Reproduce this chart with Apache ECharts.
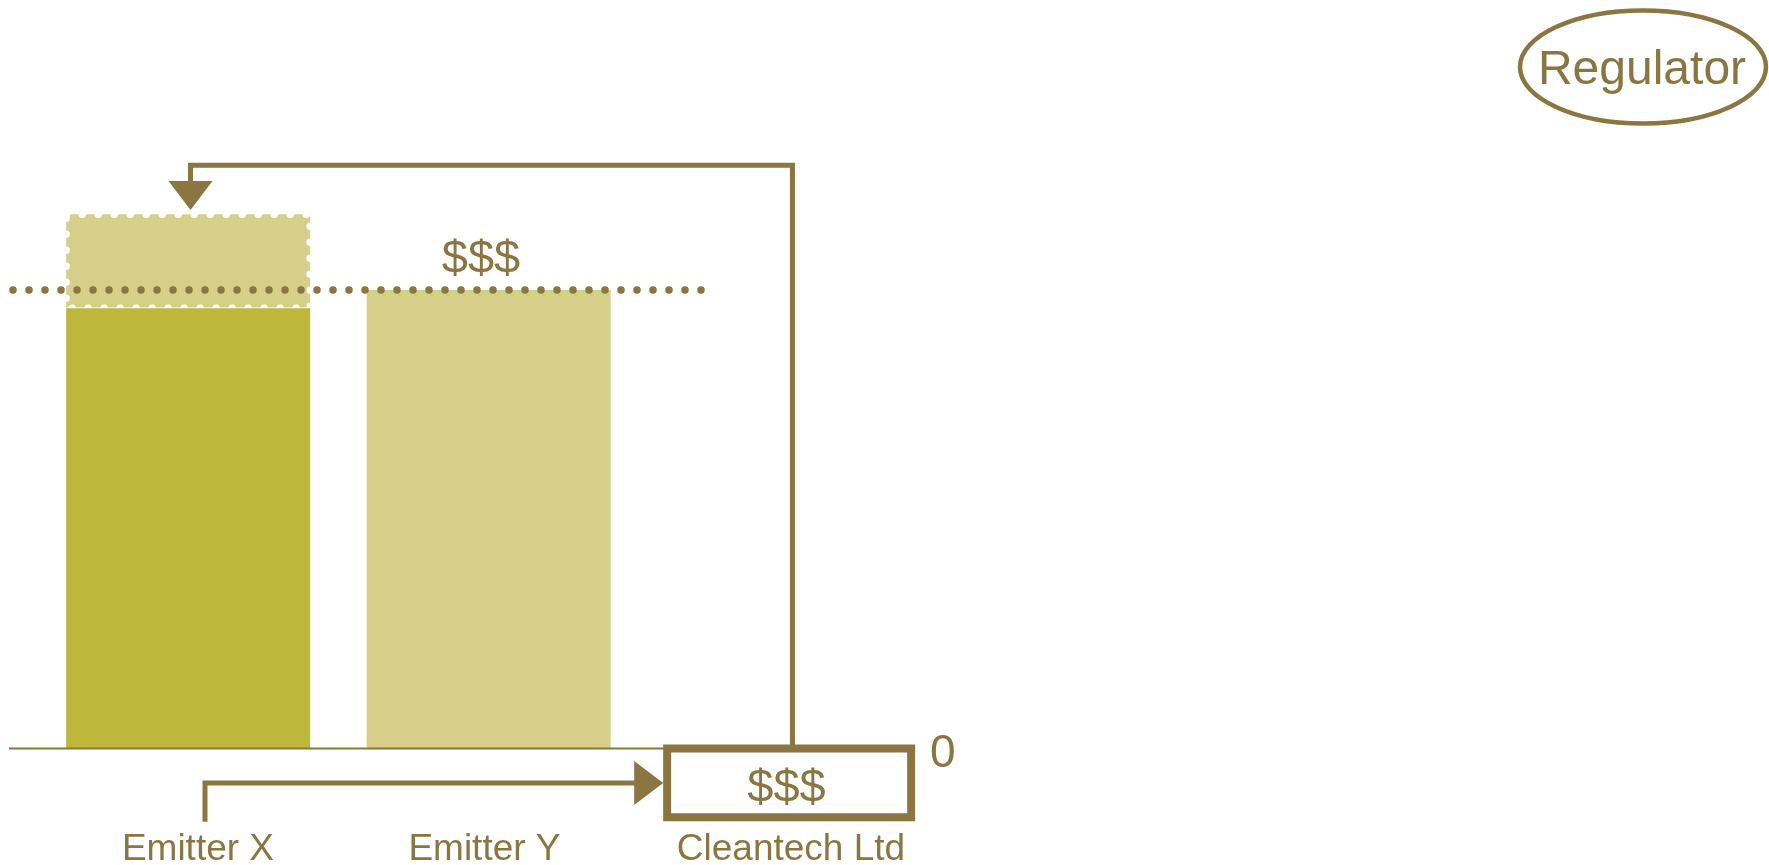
<!DOCTYPE html>
<html><head><meta charset="utf-8">
<script src="https://cdn.jsdelivr.net/npm/echarts@6/dist/echarts.min.js"></script>
<style>html,body{margin:0;padding:0;background:#fff}#c{width:1769px;height:865px}</style>
</head><body><div id="c"></div>
<script>
// ---- data ----
const categories = ['Emitter X', 'Emitter Y', 'Cleantech Ltd'];
const emissions = [96, 100, null];          // solid bars
const extraPermits = [20.5, null, null];    // dotted "ghost" part above Emitter X
const cleantechCredit = [null, null, -15];  // Cleantech box (below axis)
const capLevel = 100;                       // dotted cap line
const yTickLabels = ['0'];
const moneyLabel = '$$$';
const regulatorLabel = 'Regulator';

// ---- style ----
const BROWN = '#8B7642';
const DARK = '#BDB73C';
const LIGHT = '#D5CF89';
const FONT = '"Liberation Sans", Arial, sans-serif';
const BAR_W = 244;

const chart = echarts.init(document.getElementById('c'), null, {renderer: 'canvas'});

const labelPad = [[0,0,0,19.6],[0,8.4,0,0],[0,0,0,3.6]];
const rich = {};
labelPad.forEach((p, i) => { rich['c' + i] = {padding: p, fontSize: 37, color: BROWN, fontFamily: FONT}; });

const emissionData = emissions.map((v, i) => {
  if (v == null) return '-';
  if (i === 1) {
    return {value: v, label: {show: true, position: 'top', distance: 6, offset: [-7.7, 0],
      formatter: moneyLabel, fontSize: 47, color: BROWN, fontFamily: FONT}};
  }
  return v;
});

// ghost (extra permits) ranges: [category index, from, to]
const ghostData = extraPermits.map((v, i) => v == null ? null : [i, emissions[i], emissions[i] + v]).filter(Boolean);
// Cleantech box ranges
const boxData = cleantechCredit.map((v, i) => v == null ? null : [i, 0, v]).filter(Boolean);

function ghostRender(params, api) {
  const c = api.value(0);
  const pBase = api.coord([c, api.value(1)]);
  const pTop = api.coord([c, api.value(2)]);
  const x = pBase[0] - BAR_W / 2;
  return {type: 'group', children: [
    {type: 'rect', shape: {x: x, y: pTop[1], width: BAR_W, height: pBase[1] - pTop[1]},
     style: {fill: LIGHT, stroke: '#ffffff', lineWidth: 7.5, lineDash: [0, 16], lineCap: 'round'}},
    {type: 'line', shape: {x1: x, y1: pBase[1], x2: x + BAR_W, y2: pBase[1]},
     style: {stroke: '#ffffff', lineWidth: 1.5}}
  ]};
}

function boxRender(params, api) {
  const c = api.value(0);
  const p0 = api.coord([c, api.value(1)]);
  const p1 = api.coord([c, api.value(2)]);
  return {type: 'group', children: [
    {type: 'rect', shape: {x: p0[0] - BAR_W / 2, y: Math.min(p0[1], p1[1]), width: BAR_W, height: Math.abs(p1[1] - p0[1])},
     style: {fill: '#ffffff', stroke: BROWN, lineWidth: 8}},
    {type: 'text', x: p0[0] - 2.7, y: (p0[1] + p1[1]) / 2 + 6,
     style: {text: moneyLabel, font: '47px ' + FONT, fill: BROWN, align: 'center', verticalAlign: 'middle',
             textAlign: 'center', textVerticalAlign: 'middle'}}
  ]};
}

const gridBox = {top: 152.45, bottom: 24.8, right: 829.6};

const option = {
  animation: false,
  backgroundColor: '#ffffff',
  grid: [
    Object.assign({left: 37.92, outerBoundsMode: 'none', containLabel: false}, gridBox),
    Object.assign({left: 9, outerBoundsMode: 'none', containLabel: false}, gridBox)
  ],
  xAxis: [
    {type: 'category', gridIndex: 0, data: categories, boundaryGap: true, offset: -91.7,
     axisLine: {show: false, onZero: false}, axisTick: {show: false}, splitLine: {show: false},
     axisLabel: {margin: 82.5, fontSize: 37, color: BROWN, fontFamily: FONT, interval: 0,
       formatter: (v, i) => '{c' + i + '|' + v + '}', rich: rich}},
    {type: 'value', gridIndex: 1, show: false, min: -0.5962, max: 2.5, splitLine: {show: false}}
  ],
  yAxis: [
    {type: 'value', gridIndex: 0, position: 'right', min: -20, max: 130, interval: 10,
     axisLine: {show: false}, axisTick: {show: false}, splitLine: {show: false},
     axisLabel: {margin: -9.4, fontSize: 46, color: BROWN, fontFamily: FONT,
       formatter: v => (v === 0 ? '{z|' + yTickLabels[0] + '}' : ''),
       rich: {z: {padding: [11, 0, 0, 0], fontSize: 46, color: BROWN, fontFamily: FONT}}}},
    {type: 'value', gridIndex: 1, show: false, min: -20, max: 130, splitLine: {show: false}}
  ],
  series: [
    {type: 'bar', name: 'Emissions', barWidth: BAR_W, silent: true,
     itemStyle: {color: (p) => p.dataIndex === 0 ? DARK : LIGHT},
     data: emissionData},
    {type: 'custom', name: 'Extra permits', silent: true, renderItem: ghostRender,
     encode: {x: 0, y: [1, 2]}, data: ghostData},
    {type: 'custom', name: 'Cleantech', silent: true, renderItem: boxRender,
     encode: {x: 0, y: [1, 2]}, data: boxData},
    // baseline
    {type: 'line', xAxisIndex: 1, yAxisIndex: 1, symbol: 'none', clip: false, silent: true,
     lineStyle: {color: BROWN, width: 2},
     data: [[-0.5962, 0], [1.5934, 0]]},
    // cap (dotted)
    {type: 'line', xAxisIndex: 1, yAxisIndex: 1, symbol: 'none', clip: false, silent: true,
     lineStyle: {color: BROWN, width: 7.5, type: [0, 16], cap: 'round'},
     data: [[-0.5829, capLevel], [1.7099, capLevel]]},
    // arrow Cleantech -> Emitter X (top)
    {type: 'line', xAxisIndex: 1, yAxisIndex: 1, symbol: 'none', clip: false, silent: true,
     itemStyle: {color: BROWN},
     lineStyle: {color: BROWN, width: 5, join: 'miter'},
     data: [[2.011, 0], [2.011, 127.2], [0.0078, 127.2],
            {value: [0.0078, 120.6], symbol: 'triangle', symbolSize: [44, 29], symbolRotate: 180}]},
    // arrow Emitter X -> Cleantech (bottom)
    {type: 'line', xAxisIndex: 1, yAxisIndex: 1, symbol: 'none', clip: false, silent: true,
     itemStyle: {color: BROWN},
     lineStyle: {color: BROWN, width: 5, join: 'miter'},
     data: [[0.056, -16], [0.056, -7.5],
            {value: [1.5325, -7.5], symbol: 'triangle', symbolSize: [44, 29], symbolRotate: -90}]}
  ],
  graphic: [
    {type: 'ellipse', shape: {cx: 1643, cy: 67, rx: 123, ry: 56.5},
     style: {fill: '#ffffff', stroke: BROWN, lineWidth: 4.5}},
    {type: 'text', x: 1642, y: 71,
     style: {text: regulatorLabel, font: '48px ' + FONT, fill: BROWN, align: 'center', verticalAlign: 'middle',
             textAlign: 'center', textVerticalAlign: 'middle'}}
  ]
};
chart.setOption(option);
</script>
</body></html>
